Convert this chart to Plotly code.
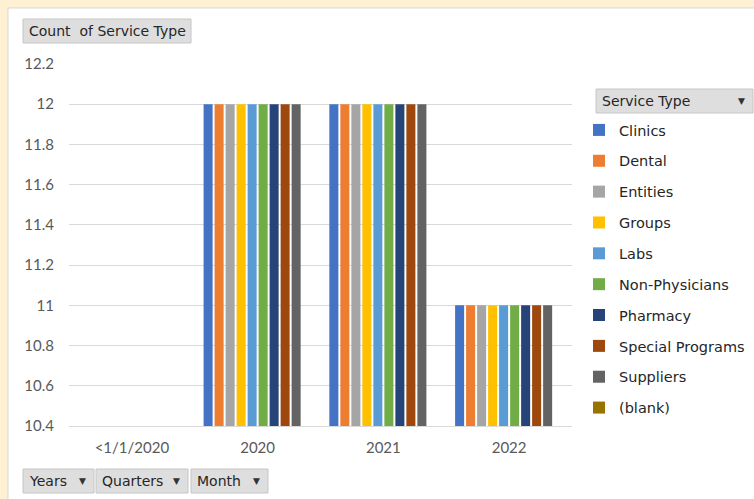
import plotly.graph_objects as go

categories = ["<1/1/2020", "2020", "2021", "2022"]
series_names = ["Clinics", "Dental", "Entities", "Groups", "Labs", "Non-Physicians",
                "Pharmacy", "Special Programs", "Suppliers", "(blank)"]
series_values = {
    "Clinics": [None, 12, 12, 11],
    "Dental": [None, 12, 12, 11],
    "Entities": [None, 12, 12, 11],
    "Groups": [None, 12, 12, 11],
    "Labs": [None, 12, 12, 11],
    "Non-Physicians": [None, 12, 12, 11],
    "Pharmacy": [None, 12, 12, 11],
    "Special Programs": [None, 12, 12, 11],
    "Suppliers": [None, 12, 12, 11],
    "(blank)": [None, None, None, None],
}
colors = ["#4472C4", "#ED7D31", "#A5A5A5", "#FFC000", "#5B9BD5", "#70AD47",
          "#264478", "#9E480E", "#636363", "#997300"]
y_ticks = [10.4, 10.6, 10.8, 11, 11.2, 11.4, 11.6, 11.8, 12, 12.2]

W, H = 754, 499
L, R, T, B = 69, 572, 64, 426

def px(x):
    return (x - L) / (R - L)

def py(y):
    return (B - y) / (B - T)

fig = go.Figure()
for name, col in zip(series_names, colors):
    fig.add_trace(go.Bar(
        x=categories, y=series_values[name], name=name,
        marker=dict(color=col, line=dict(width=0)),
        legendgroup=name,
    ))

BTN_FONT = "DejaVu Sans"
TXT = "#262626"

shapes = []
annotations = []

# white panel on cream background
shapes.append(dict(type="rect", xref="paper", yref="paper",
                   x0=px(8), x1=px(760), y0=py(505), y1=py(8),
                   fillcolor="white", line=dict(color="#D9D9D9", width=1), layer="below"))

def button(x0, x1, y0, y1, text, arrow=False, text_x=None):
    shapes.append(dict(type="rect", xref="paper", yref="paper",
                       x0=px(x0), x1=px(x1), y0=py(y1), y1=py(y0),
                       fillcolor="#DEDEDE", line=dict(color="#C6C6C6", width=1), layer="above"))
    tx = text_x if text_x is not None else x0 + 4
    annotations.append(dict(xref="paper", yref="paper", x=px(tx), y=py((y0 + y1) / 2),
                            xanchor="left", yanchor="middle", showarrow=False,
                            text=text, font=dict(family=BTN_FONT, size=14, color=TXT)))
    if arrow:
        annotations.append(dict(xref="paper", yref="paper", x=px(x1 - 12), y=py((y0 + y1) / 2),
                                xanchor="center", yanchor="middle", showarrow=False,
                                text="▼", font=dict(family=BTN_FONT, size=9, color="#333333")))

button(23, 191, 19, 43, "Count  of Service Type")
button(596, 753, 89, 113, "Service Type", arrow=True)
button(23, 94, 469, 493, "Years", arrow=True)
button(96, 188, 469, 493, "Quarters", arrow=True)
button(191, 268, 469, 493, "Month", arrow=True)

fig.update_layout(
    width=W, height=H,
    margin=dict(l=L, r=W - R, t=T, b=H - B, pad=0, autoexpand=False),
    paper_bgcolor="#FDF0D3",
    plot_bgcolor="white",
    barmode="group",
    bargap=0.125,
    bargroupgap=0.18,
    showlegend=True,
    legend=dict(
        x=px(579), y=py(114), xanchor="left", yanchor="top",
        font=dict(family=BTN_FONT, size=14.5, color=TXT),
        bgcolor="rgba(0,0,0,0)", tracegroupgap=9, traceorder="grouped",
        itemwidth=30,
    ),
    xaxis=dict(
        type="category", categoryorder="array", categoryarray=categories,
        showgrid=False, showline=True, linecolor="#D9D9D9", linewidth=1,
        ticks="", tickfont=dict(family="Lato", size=15, color="#595959"),
        ticklabelstandoff=8,
    ),
    yaxis=dict(
        range=[10.4, 12.2], tickmode="array", tickvals=y_ticks,
        ticktext=[("%g" % v) for v in y_ticks],
        showgrid=True, gridcolor="#D9D9D9", gridwidth=1, zeroline=False,
        showline=False, ticks="", tickfont=dict(family="Lato", size=15, color="#595959"),
        ticklabelstandoff=14,
    ),
    shapes=shapes,
    annotations=annotations,
)

fig.write_html("out.html")
